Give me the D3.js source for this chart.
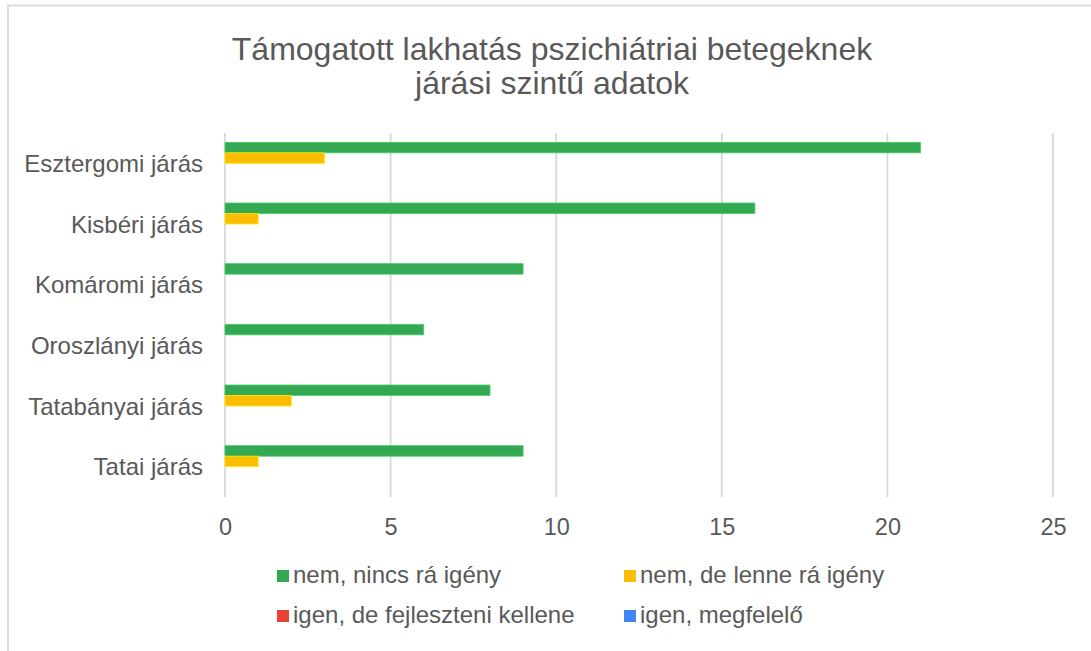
<!DOCTYPE html>
<html>
<head>
<meta charset="utf-8">
<script src="https://cdn.jsdelivr.net/npm/d3@7"></script>
<style>
  html, body { margin: 0; padding: 0; background: #fff; }
  svg { display: block; font-family: "Liberation Sans", Arial, sans-serif; }
</style>
</head>
<body>
<svg id="chart" width="1091" height="651"></svg>
<script>
// Districts, listed top to bottom
const categories = ["Esztergomi járás", "Kisbéri járás", "Komáromi járás", "Oroszlányi járás", "Tatabányai járás", "Tatai járás"];

// Answer categories (legend order) and their colours
const seriesNames = ["nem, nincs rá igény", "nem, de lenne rá igény", "igen, de fejleszteni kellene", "igen, megfelelő"];
const seriesColors = ["#34A853", "#FBBC04", "#EA4335", "#4285F4"];

// Counts per district for each answer
const nemNincs   = [21, 16, 9, 6, 8, 9];
const nemDeLenne = [3, 1, 0, 0, 2, 1];
const igenDeFejl = [0, 0, 0, 0, 0, 0];
const igenMegf   = [0, 0, 0, 0, 0, 0];
const seriesValues = [nemNincs, nemDeLenne, igenDeFejl, igenMegf];

const xTicks = [0, 5, 10, 15, 20, 25];
const titleLines = ["Támogatott lakhatás pszichiátriai betegeknek", "járási szintű adatok"];

const svg = d3.select("#chart");
const textColor = "#595959";
const gridColor = "#d9d9d9";

// Chart frame
svg.append("rect")
  .attr("x", 8).attr("y", 5.5)
  .attr("width", 1200).attr("height", 800)
  .attr("fill", "none")
  .attr("stroke", gridColor)
  .attr("stroke-width", 1.8);

// Title
svg.append("text")
  .attr("x", 552).attr("y", 60)
  .attr("text-anchor", "middle")
  .attr("fill", textColor)
  .attr("font-size", 32)
  .selectAll("tspan")
  .data(titleLines)
  .join("tspan")
  .attr("x", 552)
  .attr("dy", (d, i) => i === 0 ? 0 : 34)
  .text(d => d);

// Scales
const plotTop = 133, plotBottom = 497;
const x = d3.scaleLinear().domain([0, 25]).range([225, 1053]);
const y = d3.scaleBand().domain(categories).range([plotTop, plotBottom])
  .paddingInner(0.3077).paddingOuter(0.1538);
const ySub = d3.scaleBand().domain(d3.range(seriesNames.length)).range([0, y.bandwidth()]);

// Vertical gridlines
svg.append("g")
  .selectAll("line")
  .data(xTicks)
  .join("line")
  .attr("x1", d => x(d)).attr("x2", d => x(d))
  .attr("y1", plotTop).attr("y2", plotBottom)
  .attr("stroke", gridColor)
  .attr("stroke-width", 1.8);

// X axis labels
const xAxis = d3.axisBottom(x).tickValues(xTicks).tickSize(0).tickPadding(0);
const gx = svg.append("g").attr("transform", `translate(0,${plotBottom})`).call(xAxis);
gx.select(".domain").remove();
gx.selectAll("text")
  .attr("y", 38)
  .attr("dy", 0)
  .attr("fill", textColor)
  .attr("font-size", 23.5)
  .attr("font-family", "Liberation Sans, Arial, sans-serif");

// Y axis labels
const yAxis = d3.axisLeft(y).tickSize(0).tickPadding(0);
const gy = svg.append("g").attr("transform", "translate(203,0)").call(yAxis);
gy.select(".domain").remove();
gy.selectAll("text")
  .attr("x", 0)
  .attr("dy", "0.36em")
  .attr("fill", textColor)
  .attr("font-size", 24)
  .attr("font-family", "Liberation Sans, Arial, sans-serif");

// Bars
const groups = svg.append("g")
  .selectAll("g")
  .data(categories)
  .join("g")
  .attr("transform", d => `translate(0,${y(d)})`);

groups.selectAll("rect")
  .data((c, ci) => seriesValues.map((vals, si) => ({ si, v: vals[ci] })).filter(d => d.v > 0))
  .join("rect")
  .attr("x", x(0))
  .attr("y", d => ySub(d.si))
  .attr("width", d => x(d.v) - x(0))
  .attr("height", ySub.bandwidth())
  .attr("fill", d => seriesColors[d.si])
  .attr("stroke", d => d3.color(seriesColors[d.si]).brighter(0.6))
  .attr("stroke-width", 0.8);

// Legend
const legendPos = [[277, 570], [624, 570], [277, 610], [624, 610]];
const legend = svg.append("g")
  .selectAll("g")
  .data(seriesNames)
  .join("g")
  .attr("transform", (d, i) => `translate(${legendPos[i][0]},${legendPos[i][1]})`);

legend.append("rect")
  .attr("width", 12).attr("height", 12)
  .attr("fill", (d, i) => seriesColors[i]);

legend.append("text")
  .attr("x", 16).attr("y", 13)
  .attr("fill", textColor)
  .attr("font-size", 24)
  .text(d => d);
</script>
</body>
</html>
